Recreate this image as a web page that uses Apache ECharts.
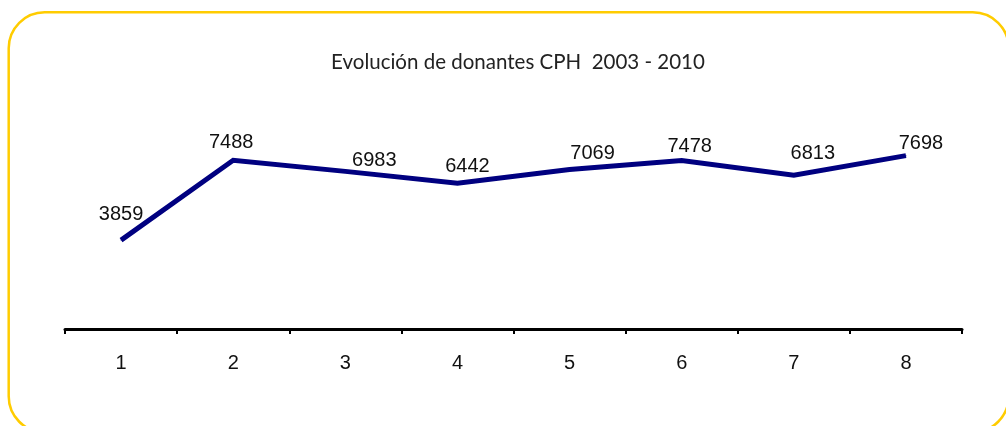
<!DOCTYPE html>
<html>
<head>
<meta charset="utf-8">
<script src="https://cdn.jsdelivr.net/npm/echarts@6/dist/echarts.min.js"></script>
<style>
html,body{margin:0;padding:0;background:#fff;}
#chart{width:1006px;height:426px;}
</style>
</head>
<body>
<div id="chart"></div>
<script>
// ---- data ----
const titleText = 'Evolución de donantes CPH  2003 - 2010';
const categories = ['1', '2', '3', '4', '5', '6', '7', '8'];
const donantes = [3859, 7488, 6983, 6442, 7069, 7478, 6813, 7698];
const yMin = 0;
const yMax = 9000;

// ---- style: label offsets (px) relative to each point ----
const labelOffsets = [[0, -26], [-2, -18], [29, -11], [10, -17], [23, -16], [8, -14], [19, -22], [15, -12]];

const chart = echarts.init(document.getElementById('chart'), null, {renderer: 'canvas'});

const seriesData = donantes.map((v, i) => ({
  value: v,
  label: { offset: labelOffsets[i] }
}));

chart.setOption({
  animation: false,
  backgroundColor: '#ffffff',
  graphic: [{
    type: 'rect',
    shape: { x: 8.7, y: 12.3, width: 1000, height: 420, r: 36 },
    style: { fill: 'none', stroke: '#FFCC00', lineWidth: 2.5 },
    silent: true
  }],
  title: {
    text: titleText,
    left: 513,
    top: 47,
    textAlign: 'center',
    textStyle: { fontFamily: 'Lato', fontSize: 20.5, fontWeight: 'normal', color: '#222222' }
  },
  grid: { left: 65, right: 44, top: 127, bottom: 101, containLabel: false },
  xAxis: {
    type: 'category',
    data: categories,
    boundaryGap: true,
    offset: 4,
    axisLine: { show: true, onZero: false, lineStyle: { color: '#000000', width: 3 } },
    axisTick: { show: true, alignWithLabel: false, length: 5, lineStyle: { color: '#000000', width: 2 } },
    axisLabel: { margin: 24, fontFamily: 'Liberation Sans, Arial', fontSize: 20, color: '#111111' },
    splitLine: { show: false }
  },
  yAxis: {
    type: 'value',
    min: yMin,
    max: yMax,
    interval: 1000,
    show: false
  },
  series: [{
    type: 'line',
    data: seriesData,
    symbol: 'circle',
    symbolSize: 1,
    showSymbol: true,
    itemStyle: { color: '#000080' },
    lineStyle: { color: '#000080', width: 5, join: 'miter' },
    label: {
      show: true,
      position: 'inside',
      align: 'center',
      verticalAlign: 'middle',
      fontFamily: 'Liberation Sans, Arial',
      fontSize: 20,
      color: '#111111'
    }
  }]
});
</script>
</body>
</html>
